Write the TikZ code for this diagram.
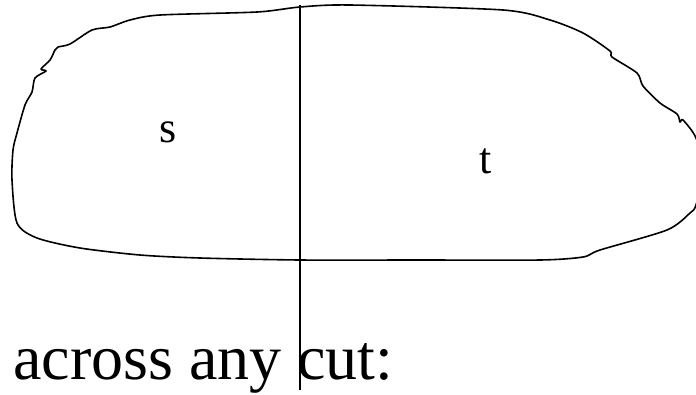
\documentclass[tikz,border=0pt]{standalone}
\usepackage{fontspec}
\setmainfont{Liberation Serif}
\begin{document}
\begin{tikzpicture}[x=1pt,y=-1pt,
  outline/.style={line width=1.6pt,line join=round},
  cutline/.style={line width=1.6pt},
  lbl/.style={font=\fontsize{44}{44}\selectfont,inner sep=0pt,anchor=base}]
\useasboundingbox (0,0) rectangle (696,394);
\begin{scope}
\clip (0,0) rectangle (696,394);
\draw[outline] plot[smooth cycle,tension=0.45] coordinates {
 (160,15) (257,12) (300,7) (350,5) (503,10) (550,20) (583,33) (610,51)
 (612,57) (637,73) (643,86) (660,103) (677,114) (680,122) (683,120)
 (696,138) (703,172) (696,205) (690,213) (667,230) (600,250) (583,257)
 (540,260) (420,260) (300,260) (200,258) (140,255) (80,248) (37,238)
 (17,223) (12,180) (13,150) (17,133) (25,105) (32,92) (35,78) (46,71)
 (41,69) (50,60) (55,50) (58,47) (70,44) (92,30) (110,27) (130,20)};
\end{scope}
\coordinate (ctop) at (300,5);
\coordinate (cbot) at (300,390);
\draw[cutline] (ctop) -- (cbot);
\node[lbl] (s) at (168,142) {s};
\node[lbl] (t) at (486,173) {t};
\node[font=\fontsize{64}{64}\selectfont,inner sep=0pt,anchor=base west] (cap) at (13,379) {across any cut:};
\end{tikzpicture}
\end{document}
